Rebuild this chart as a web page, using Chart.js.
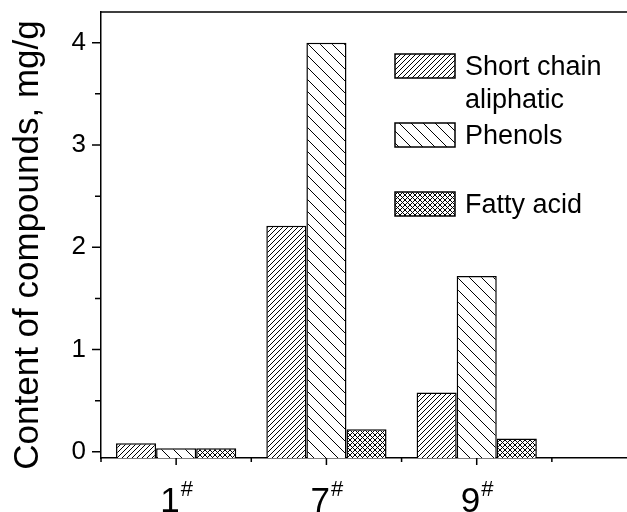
<!DOCTYPE html>
<html lang="en">
<head>
<meta charset="UTF-8">
<title>Content of compounds</title>
<script src="https://cdn.jsdelivr.net/npm/chart.js"></script>
<style>
  html, body { margin: 0; padding: 0; background: #fff; overflow: hidden; }
</style>
</head>
<body>
<canvas id="barChart" width="627" height="512"></canvas>
<script>
// data
const samples = ['1', '7', '9'];
const sampleMark = '#';
const seriesNames = ['Short chain aliphatic', 'Phenols', 'Fatty acid'];
const shortChain = [0.085, 2.21, 0.58];
const phenols = [0.035, 4.0, 1.72];
const fattyAcid = [0.035, 0.22, 0.13];
const yTicks = [0, 1, 2, 3, 4];
const yTitle = 'Content of compounds, mg/g';

const FONT = "'Liberation Sans', Arial, sans-serif";
const Y_MIN = -0.06, Y_MAX = 4.3;

const canvas = document.getElementById('barChart');
const ctx = canvas.getContext('2d');

// hatch fills like the Origin patterns
function hatch(step, dirs, lw) {
  const c = document.createElement('canvas');
  c.width = step; c.height = step;
  const g = c.getContext('2d');
  g.fillStyle = '#fff';
  g.fillRect(0, 0, step, step);
  g.strokeStyle = '#000';
  g.lineWidth = lw;
  g.beginPath();
  dirs.forEach(d => {
    for (let k = -1; k <= 1; k++) {
      if (d === '/') { g.moveTo(k * step, step); g.lineTo(k * step + step, 0); }
      else { g.moveTo(k * step, 0); g.lineTo(k * step + step, step); }
    }
  });
  g.stroke();
  return ctx.createPattern(c, 'repeat');
}

const fills = [hatch(5, ['/'], 1), hatch(12, ['\\'], 1), hatch(5, ['/', '\\'], 1)];
const seriesValues = [shortChain, phenols, fattyAcid];

const datasets = seriesNames.map((name, s) => ({
  label: name,
  data: samples.map((_, i) => ({ x: i + 1, y: seriesValues[s][i] })),
  backgroundColor: fills[s],
  borderColor: '#000',
  borderWidth: 1.5,
  base: Y_MIN,
  categoryPercentage: 0.8,
  barPercentage: 1.0
}));

// tick marks, top frame, category labels, y title, legend
const decorPlugin = {
  id: 'decor',
  afterDraw(chart) {
    const c = chart.ctx;
    const area = chart.chartArea;
    const xs = chart.scales.x, ys = chart.scales.y;
    c.save();
    c.strokeStyle = '#000';
    c.lineWidth = 1.5;
    c.beginPath();
    c.moveTo(area.left, area.top);
    c.lineTo(area.right, area.top);
    // x ticks
    for (let v = 0.5; v <= 4; v += 0.5) {
      const px = xs.getPixelForValue(v);
      if (px > area.right - 1) continue;
      const len = Number.isInteger(v) ? 7 : 4;
      c.moveTo(px, area.bottom);
      c.lineTo(px, area.bottom + len);
    }
    // y ticks
    for (let v = 0; v <= 4; v += 0.5) {
      const py = ys.getPixelForValue(v);
      const len = Number.isInteger(v) ? 9 : 6;
      c.moveTo(area.left, py);
      c.lineTo(area.left - len, py);
    }
    c.stroke();

    // category labels with superscript mark
    c.fillStyle = '#000';
    c.textBaseline = 'alphabetic';
    c.textAlign = 'left';
    samples.forEach((lab, i) => {
      const px = xs.getPixelForValue(i + 1);
      c.font = '35px ' + FONT;
      const w1 = c.measureText(lab).width;
      c.font = '22px ' + FONT;
      const w2 = c.measureText(sampleMark).width;
      const x0 = px - (w1 + w2) / 2;
      c.font = '35px ' + FONT;
      c.fillText(lab, x0, 512);
      c.font = '22px ' + FONT;
      c.fillText(sampleMark, x0 + w1 + 1, 496);
    });

    // y title
    c.save();
    c.translate(38, 245);
    c.rotate(-Math.PI / 2);
    c.font = '35px ' + FONT;
    c.textAlign = 'center';
    c.fillText(yTitle, 0, 0);
    c.restore();

    // legend
    c.font = '27px ' + FONT;
    chart.data.datasets.forEach((ds, i) => {
      const top = 54 + i * 69;
      c.fillStyle = ds.backgroundColor;
      c.fillRect(395, top, 60, 24);
      c.lineWidth = 1.5;
      c.strokeRect(395, top, 60, 24);
      // wrap long names
      const words = ds.label.split(' ');
      const lines = [];
      let cur = '';
      words.forEach(w => {
        const t = cur ? cur + ' ' + w : w;
        if (c.measureText(t).width > 150 && cur) { lines.push(cur); cur = w; }
        else cur = t;
      });
      lines.push(cur);
      c.fillStyle = '#000';
      lines.forEach((ln, k) => c.fillText(ln, 465, top + 21 + k * 33));
    });
    c.restore();
  }
};

new Chart(ctx, {
  type: 'bar',
  data: { datasets: datasets },
  options: {
    responsive: false,
    animation: false,
    devicePixelRatio: 1,
    layout: { padding: { top: 12, left: 0, right: 0, bottom: 0 } },
    plugins: { legend: { display: false }, tooltip: { enabled: false } },
    scales: {
      x: {
        type: 'linear',
        min: 0.5,
        max: 4,
        offset: false,
        ticks: { display: false, stepSize: 1, includeBounds: false },
        grid: { display: false, drawTicks: false },
        border: { display: true, color: '#000', width: 1.5 },
        afterFit(scale) {
          scale.height = 54;
          scale.paddingLeft = 0;
          scale.paddingRight = 0;
        }
      },
      y: {
        min: Y_MIN,
        max: Y_MAX,
        afterBuildTicks(scale) {
          scale.ticks = yTicks.map(v => ({ value: v }));
        },
        ticks: {
          color: '#000',
          padding: 15,
          font: { family: FONT, size: 26 }
        },
        grid: { display: false, drawTicks: false },
        border: { display: true, color: '#000', width: 1.5 },
        afterFit(scale) {
          scale.width = 101;
          scale.paddingTop = 0;
          scale.paddingBottom = 0;
        }
      }
    }
  },
  plugins: [decorPlugin]
});
</script>
</body>
</html>
